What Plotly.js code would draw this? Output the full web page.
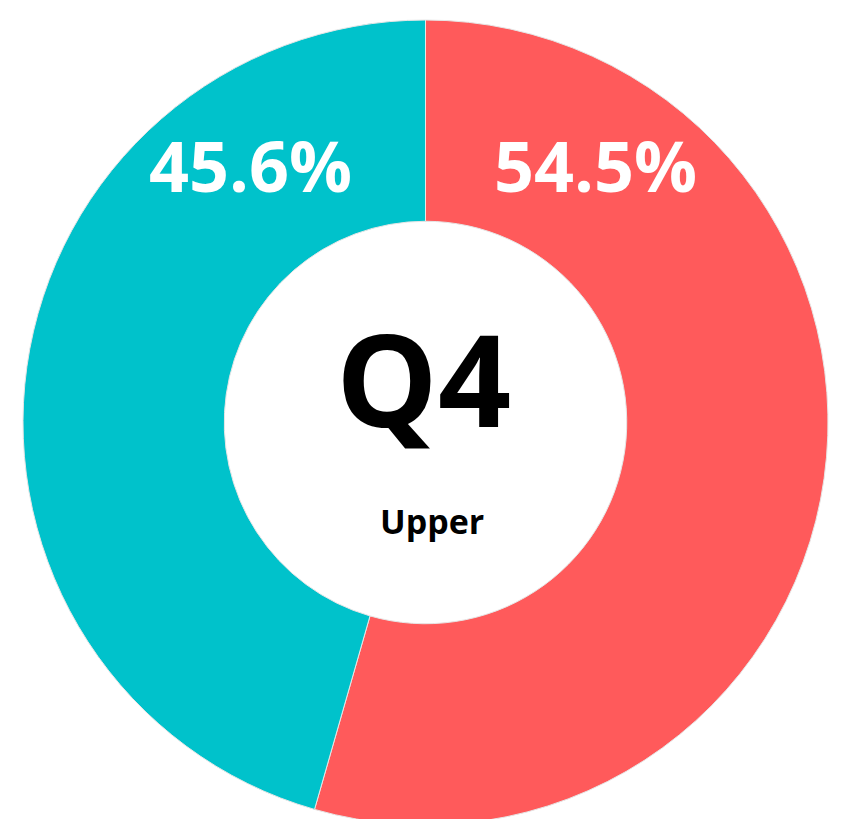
<!DOCTYPE html>
<html>
<head>
<meta charset="utf-8">
<script src="https://cdn.plot.ly/plotly-3.0.1.min.js"></script>
<style>
  html, body { margin: 0; padding: 0; overflow: hidden; background: #fff; }
  #chart { width: 854px; height: 825px; }
</style>
</head>
<body>
<div id="chart"></div>
<script>
// Data
const categories = ["Group A", "Group B"];
const values = [54.5, 45.6];
const sliceColors = ["#FF5A5B", "#00C2CB"];
const centerTitle = "Q4";
const centerSubtitle = "Upper";

// Label positions (paper coords) for each slice's percentage text
const labelPos = [[0.7118, 0.82], [0.2832, 0.82]];

const trace = {
  type: "pie",
  labels: categories,
  values: values,
  hole: 0.5,
  sort: false,
  direction: "clockwise",
  rotation: 0,
  textinfo: "none",
  hoverinfo: "label+percent",
  marker: { colors: sliceColors, line: { color: "#e6e6e6", width: 1 } },
  showlegend: false
};

const annotations = values.map((v, i) => ({
  xref: "paper", yref: "paper",
  x: labelPos[i][0], y: labelPos[i][1],
  xanchor: "center", yanchor: "middle",
  text: v.toFixed(1) + "%",
  showarrow: false,
  font: { family: "Open Sans, sans-serif", size: 70, color: "#ffffff", weight: 700 }
}));

annotations.push({
  xref: "paper", yref: "paper", x: 0.4975, y: 0.556,
  xanchor: "center", yanchor: "middle",
  text: "<b>" + centerTitle + "</b>", showarrow: false,
  font: { family: "Open Sans, sans-serif", size: 128, color: "#000000" }
});
annotations.push({
  xref: "paper", yref: "paper", x: 0.508, y: 0.378,
  xanchor: "center", yanchor: "middle",
  text: "<b>" + centerSubtitle + "</b>", showarrow: false,
  font: { family: "Open Sans, sans-serif", size: 34, color: "#000000" }
});

const layout = {
  width: 854, height: 825,
  margin: { l: 23, r: 26, t: 20, b: 0, pad: 0 },
  paper_bgcolor: "#ffffff",
  plot_bgcolor: "#ffffff",
  showlegend: false,
  annotations: annotations
};

Plotly.newPlot("chart", [trace], layout, { displayModeBar: false, staticPlot: true });
</script>
</body>
</html>
